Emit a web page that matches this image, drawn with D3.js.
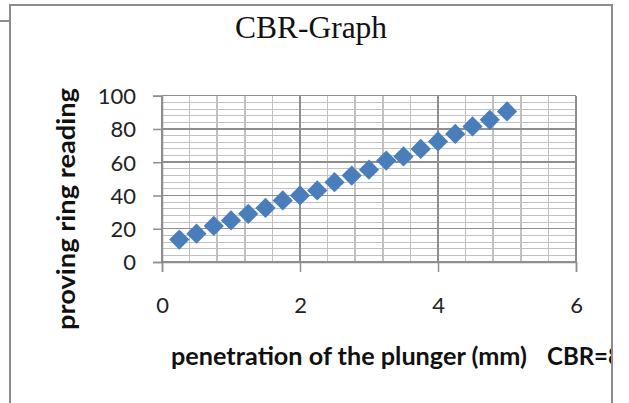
<!DOCTYPE html>
<html>
<head>
<meta charset="utf-8">
<script src="https://cdn.jsdelivr.net/npm/d3@7"></script>
<style>
  html, body { margin: 0; padding: 0; background: #fff; }
  svg { display: block; }
</style>
</head>
<body>
<svg id="chart" width="629" height="403"></svg>
<script>
// Penetration of the plunger (mm)
const penetration = [0.25, 0.5, 0.75, 1.0, 1.25, 1.5, 1.75, 2.0, 2.25, 2.5,
                     2.75, 3.0, 3.25, 3.5, 3.75, 4.0, 4.25, 4.5, 4.75, 5.0];
// Proving ring reading at each penetration
const ringReading = [13.5, 17, 21.7, 25, 29, 32.5, 37, 40, 43, 48,
                     52, 55.5, 61, 63.5, 68, 72.5, 77, 81.5, 85.5, 90.5];

const xTicks = [0, 2, 4, 6];
const yTicks = [0, 20, 40, 60, 80, 100];
const xMinorStep = 0.4;
const yMinorStep = 4;

const titleText = "CBR-Graph";
const xTitle = "penetration of the plunger (mm)";
const cbrText = "CBR=8%";
const yTitle = "proving ring reading";

const svg = d3.select("#chart");

const plot = { left: 162, right: 576, top: 95.7, bottom: 262 };
const x = d3.scaleLinear().domain([0, 6]).range([plot.left, plot.right]);
const y = d3.scaleLinear().domain([0, 100]).range([plot.bottom, plot.top]);

// outer frame
const frame = svg.append("g").attr("stroke", "#8c8c8c").attr("stroke-width", 2).attr("fill", "none");
frame.append("path").attr("d", "M10,403 L10,5 L612,5 L612,403");
frame.append("line").attr("x1", 0).attr("x2", 10).attr("y1", 21).attr("y2", 21);

// title
svg.append("text")
  .attr("x", 311).attr("y", 38)
  .attr("text-anchor", "middle")
  .attr("font-family", "'Liberation Serif', 'Times New Roman', serif")
  .attr("font-size", 31.5)
  .attr("fill", "#111")
  .text(titleText);

// minor gridlines
const xMinor = d3.range(0, 6 + 1e-9, xMinorStep);
const yMinor = d3.range(0, 100 + 1e-9, yMinorStep);
const grid = svg.append("g").attr("shape-rendering", "crispEdges");
grid.selectAll("line.ymin").data(yMinor).join("line")
  .attr("x1", plot.left).attr("x2", plot.right)
  .attr("y1", d => y(d)).attr("y2", d => y(d))
  .attr("stroke", "#c0c0c0").attr("stroke-width", 1);
grid.selectAll("line.xmin").data(xMinor).join("line")
  .attr("x1", d => x(d)).attr("x2", d => x(d))
  .attr("y1", plot.top).attr("y2", plot.bottom)
  .attr("stroke", "#c0c0c0").attr("stroke-width", 1.5);

// major gridlines
grid.selectAll("line.ymaj").data(yTicks).join("line")
  .attr("x1", plot.left).attr("x2", plot.right)
  .attr("y1", d => y(d)).attr("y2", d => y(d))
  .attr("stroke", "#8e8e8e").attr("stroke-width", 1.5);
grid.selectAll("line.xmaj").data(xTicks).join("line")
  .attr("x1", d => x(d)).attr("x2", d => x(d))
  .attr("y1", plot.top).attr("y2", plot.bottom)
  .attr("stroke", "#8e8e8e").attr("stroke-width", 1.5);

// axes
const labelFont = "Lato, 'Open Sans', sans-serif";
const xAxis = svg.append("g")
  .attr("transform", `translate(0,${plot.bottom})`)
  .call(d3.axisBottom(x).tickValues(xTicks).tickSize(10).tickPadding(25).tickFormat(d3.format("d")));
const yAxis = svg.append("g")
  .attr("transform", `translate(${plot.left},0)`)
  .call(d3.axisLeft(y).tickValues(yTicks).tickSize(9).tickPadding(17).tickFormat(d3.format("d")));
[xAxis, yAxis].forEach(a => {
  a.select(".domain").attr("stroke", "#8e8e8e").attr("stroke-width", 1.5);
  a.selectAll(".tick line").attr("stroke", "#8e8e8e").attr("stroke-width", 1.5);
  a.selectAll(".tick text").attr("font-family", labelFont).attr("font-size", 22).attr("fill", "#222");
});
yAxis.selectAll(".tick text").attr("dy", "0.36em");

// axis titles; the CBR note runs into the right edge of the frame and is clipped there
const clip = svg.append("defs").append("clipPath").attr("id", "frameClip");
clip.append("rect").attr("x", 0).attr("y", 0).attr("width", 611).attr("height", 403);

const titleFont = { family: labelFont, size: 24 };
svg.append("text")
  .attr("x", 171).attr("y", 365)
  .attr("font-family", titleFont.family).attr("font-weight", "bold")
  .attr("font-size", titleFont.size).attr("fill", "#111")
  .attr("textLength", 356).attr("lengthAdjust", "spacingAndGlyphs")
  .text(xTitle);
svg.append("text")
  .attr("clip-path", "url(#frameClip)")
  .attr("x", 547).attr("y", 365)
  .attr("font-family", titleFont.family).attr("font-weight", "bold")
  .attr("font-size", titleFont.size).attr("fill", "#111")
  .text(cbrText);

svg.append("text")
  .attr("transform", "translate(75,209) rotate(-90)")
  .attr("text-anchor", "middle")
  .attr("font-family", titleFont.family).attr("font-weight", "bold")
  .attr("font-size", titleFont.size).attr("fill", "#111")
  .attr("textLength", 242).attr("lengthAdjust", "spacingAndGlyphs")
  .text(yTitle);

// data markers: diamonds
svg.append("g").selectAll("path").data(penetration).join("path")
  .attr("d", d3.symbol().type(d3.symbolSquare).size(205))
  .attr("transform", (d, i) => `translate(${x(d)},${y(ringReading[i])}) rotate(45)`)
  .attr("fill", "#4a7ebb");
</script>
</body>
</html>
